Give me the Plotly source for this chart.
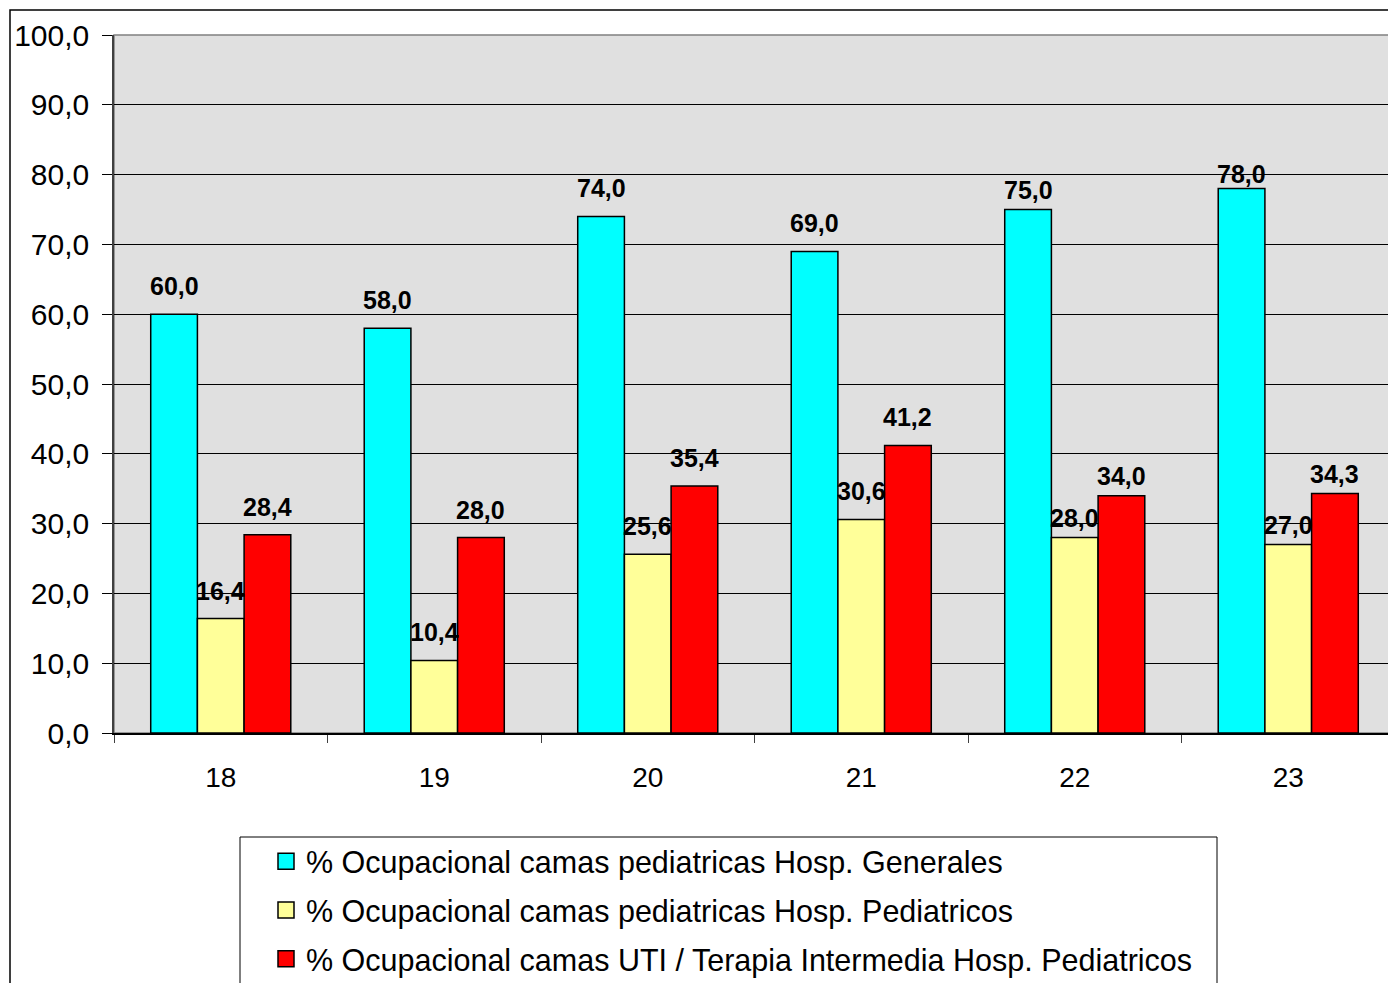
import plotly.graph_objects as go

categories = ["18", "19", "20", "21", "22", "23"]
generales = [60.0, 58.0, 74.0, 69.0, 75.0, 78.0]
pediatricos = [16.4, 10.4, 25.6, 30.6, 28.0, 27.0]
uti = [28.4, 28.0, 35.4, 41.2, 34.0, 34.3]
names = [
    "% Ocupacional camas pediatricas Hosp. Generales",
    "% Ocupacional camas pediatricas Hosp. Pediatricos",
    "% Ocupacional camas UTI / Terapia Intermedia Hosp. Pediatricos",
]
colors = ["#00FFFF", "#FFFF99", "#FF0000"]
series = [generales, pediatricos, uti]

# page has an 8px body margin: figure sized to fit the 1396x983 window
W, H = 1388, 975
ml, mr, mt, mb = 106, 1, 27, 250
pw = W - ml - mr
ph = H - mt - mb
bargap = 0.344
FONT = "Liberation Sans, Arial, sans-serif"

fig = go.Figure()
for i, (vals, nm, col) in enumerate(zip(series, names, colors)):
    fig.add_trace(go.Bar(
        x=categories, y=vals, name=nm, showlegend=False,
        marker=dict(color=col, line=dict(color="black", width=1.5)),
    ))
# legend entries
for i, (nm, col) in enumerate(zip(names, colors)):
    fig.add_trace(go.Scatter(
        x=[None], y=[None], mode="markers", name=nm, legendgroup=f"g{i}",
        marker=dict(symbol="square", size=16, color=col, line=dict(color="black", width=1.5)),
    ))

# data labels (label lift above the bar top, in pixels, as placed in the original)
cat_px = pw / len(categories)
bar_px = cat_px * (1 - bargap) / 3
default_lift = 28
lift_by_cat = {4: 20, 5: 20}
lift_special = {(0, 5): 15}
for i, vals in enumerate(series):
    off = (i - 1) * bar_px
    for j, v in enumerate(vals):
        lift = lift_special.get((i, j), lift_by_cat.get(j, default_lift))
        fig.add_annotation(
            x=j, y=v, text=f"{v:.1f}".replace(".", ","), showarrow=False,
            xshift=off, yshift=lift, yanchor="middle",
            font=dict(family=FONT, size=25, color="black", weight="bold"),
        )

# page-pixel -> paper helpers
def px_x(p):
    return (p - 8 - ml) / pw

def px_y(p):
    return (H - mb - (p - 8)) / ph

# outer chart border
fig.add_shape(type="rect", xref="paper", yref="paper",
              x0=px_x(10), x1=px_x(1420), y0=px_y(1010), y1=px_y(10),
              line=dict(color="black", width=1.5), fillcolor="rgba(0,0,0,0)", layer="below")
# legend border
fig.add_shape(type="rect", xref="paper", yref="paper",
              x0=px_x(240), x1=px_x(1217), y0=px_y(1010), y1=px_y(837),
              line=dict(color="black", width=1), fillcolor="rgba(0,0,0,0)")
# plot area top/right border
fig.add_shape(type="rect", xref="paper", yref="paper", x0=0, x1=1, y0=0, y1=1,
              line=dict(color="#808080", width=1.5), fillcolor="rgba(0,0,0,0)", layer="below")

fig.update_layout(
    width=W, height=H,
    margin=dict(l=ml, r=mr, t=mt, b=mb, pad=0, autoexpand=False),
    paper_bgcolor="white", plot_bgcolor="#E0E0E0",
    barmode="group", bargap=bargap, bargroupgap=0,
    separators=",.",
    font=dict(family=FONT, size=28, color="black"),
    legend=dict(
        x=px_x(266), xanchor="left", y=px_y(835), yanchor="top",
        font=dict(family=FONT, size=30.5, color="black"),
        bgcolor="rgba(0,0,0,0)", borderwidth=0, tracegroupgap=6,
        itemsizing="trace",
    ),
    showlegend=True,
)
fig.update_yaxes(
    range=[0, 100], dtick=10, tickformat=".1f",
    showgrid=True, gridcolor="black", gridwidth=1,
    ticks="outside", ticklen=10, tickcolor="black",
    showline=True, linecolor="#404040", linewidth=1.5,
    tickfont=dict(family=FONT, size=30), ticklabelstandoff=7,
    zeroline=False, automargin=False,
)
fig.update_xaxes(
    type="category", tickson="boundaries", range=[-0.5, 5.5],
    ticks="outside", ticklen=8, tickcolor="#404040",
    showline=True, linecolor="black", linewidth=2,
    tickfont=dict(family=FONT, size=28), ticklabelstandoff=18, automargin=False,
)

fig.write_html("out.html")
